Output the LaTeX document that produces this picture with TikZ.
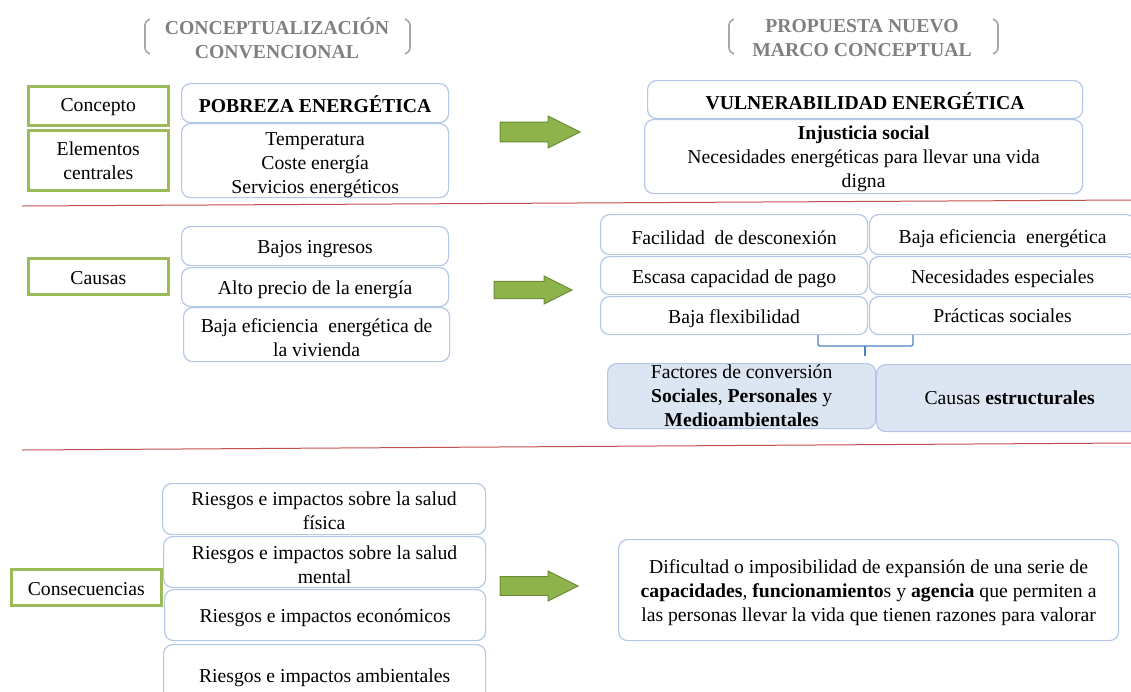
\documentclass[tikz,border=0pt]{standalone}
\usepackage{fontspec}
\setmainfont{Liberation Serif}
\definecolor{boxline}{HTML}{B4C7E7}
\definecolor{ggreen}{HTML}{9BBB59}
\definecolor{factfill}{HTML}{DCE6F2}
\definecolor{redl}{HTML}{C0504D}
\definecolor{headgray}{HTML}{808080}
\definecolor{brgray}{HTML}{A6A6A6}
\definecolor{arrfill}{HTML}{8DB34A}
\definecolor{arrdraw}{HTML}{6E8C36}
\definecolor{bracecol}{HTML}{4F81BD}
\newcommand\myfs{\fontsize{19.7}{24}\selectfont}
\newcommand\greenarrow[4]{% tail x, tip x, center y, head half
  \filldraw[fill=arrfill, draw=arrdraw, line width=1pt]
   (#1,#3-0.62*#4) -- (#2-#4*2,#3-0.62*#4) -- (#2-#4*2,#3-#4) -- (#2,#3)
   -- (#2-#4*2,#3+#4) -- (#2-#4*2,#3+0.62*#4) -- (#1,#3+0.62*#4) -- cycle;}
\begin{document}
\begin{tikzpicture}[x=1pt,y=-1pt,
  basebox/.style={draw=boxline, line width=1.2pt, rounded corners=9pt, fill=white,
    align=center, anchor=north west, inner sep=0pt, font=\myfs},
  lift/.style={execute at begin node={\rule{0pt}{#1pt}}},
  box/.style={basebox, lift=19.5},
  nbox/.style={basebox},
  fbox/.style={basebox, fill=factfill},
  gbox/.style={draw=ggreen, line width=2.6pt, align=center, anchor=north west,
    inner sep=0pt, font=\myfs},
  head/.style={align=center, text=headgray, font=\myfs\bfseries},
  redline/.style={draw=redl, line width=1pt},
  bracket/.style={draw=brgray, line width=1.6pt, rounded corners=3pt}]
\useasboundingbox (0,0) rectangle (1131,691);

% headers
\node[head] (h1) at (277,38) {CONCEPTUALIZACIÓN\\CONVENCIONAL};
\node[head] (h2) at (862,38) {PROPUESTA NUEVO\\MARCO CONCEPTUAL};
\draw[bracket] (150,19) -- (145,22) -- (145,51) -- (150,54);
\draw[bracket] (405,19) -- (410,22) -- (410,51) -- (405,54);
\draw[bracket] (734,19) -- (729,22) -- (729,51) -- (734,54);
\draw[bracket] (993,19) -- (998,22) -- (998,51) -- (993,54);

% row 1
\node[gbox, lift=16, minimum width=140, minimum height=39] (concepto) at (27,85) {Concepto};
\node[gbox, minimum width=140, minimum height=60] (elem) at (27,129) {Elementos\\centrales};
\node[box, minimum width=267, minimum height=39] (pob) at (181,83) {\textbf{POBREZA ENERGÉTICA}};
\node[box, lift=69.5, minimum width=267, minimum height=74] (temp) at (181,123) {Temperatura\\Coste energía\\Servicios energéticos};
\greenarrow{500}{580}{132}{16}
\node[box, minimum width=435, minimum height=38] (vul) at (647,80) {\textbf{VULNERABILIDAD ENERGÉTICA}};
\node[box, lift=67, minimum width=438, minimum height=74] (inj) at (644,119) {\textbf{Injusticia social}\\Necesidades energéticas para llevar una vida\\digna};

\draw[redline] (22,206) -- (1131,200);

% row 2
\node[gbox, lift=16, minimum width=140, minimum height=36] (causas) at (27,257) {Causas};
\node[box, minimum width=267, minimum height=39] (bajos) at (181,226) {Bajos ingresos};
\node[box, minimum width=267, minimum height=39] (alto) at (181,267) {Alto precio de la energía};
\node[box, lift=43, minimum width=266, minimum height=54] (bajaef) at (183,307) {Baja eficiencia\ \ energética de\\la vivienda};
\greenarrow{494}{572}{290}{14}
\node[box, minimum width=267, minimum height=40] (r11) at (600,214) {Facilidad\ \ de desconexión};
\node[box, lift=23, minimum width=266, minimum height=40] (r12) at (869,214) {Baja eficiencia\ \ energética};
\node[box, minimum width=267, minimum height=38] (r21) at (600,256) {Escasa capacidad de pago};
\node[box, minimum width=266, minimum height=38] (r22) at (869,256) {Necesidades especiales};
\node[box, minimum width=267, minimum height=38] (r31) at (600,296) {Baja flexibilidad};
\node[nbox, lift=14, minimum width=266, minimum height=38] (r32) at (869,296) {Prácticas sociales};
\draw[draw=bracecol, line width=1.3pt, rounded corners=2pt] (818,335) -- (818,346) -- (913,346) -- (913,335);
\draw[draw=bracecol, line width=1.3pt] (865,346) -- (865,356);
\node[fbox, minimum width=268, minimum height=65] (fac) at (607,363) {Factores de conversión\\\textbf{Sociales}, \textbf{Personales} y\\\textbf{Medioambientales}};
\node[fbox, minimum width=266, minimum height=67] (est) at (876,364) {Causas \textbf{estructurales}};

\draw[redline] (22,450) -- (1131,443);

% row 3
\node[gbox, lift=16, minimum width=150, minimum height=36] (cons) at (10,568) {Consecuencias};
\node[box, lift=41.5, minimum width=323, minimum height=51] (c1) at (162,483) {Riesgos e impactos sobre la salud\\física};
\node[box, lift=43.5, minimum width=322, minimum height=51] (c2) at (163,536) {Riesgos e impactos sobre la salud\\mental};
\node[box, minimum width=321, minimum height=51] (c3) at (164,589) {Riesgos e impactos económicos};
\node[box, minimum width=322, minimum height=60] (c4) at (163,644) {Riesgos e impactos ambientales};
\greenarrow{500}{578}{586}{15}
\node[box, lift=66.5, minimum width=500, minimum height=101] (dif) at (618,539) {Dificultad o imposibilidad de expansión de una serie de\\\textbf{capacidades}, \textbf{funcionamiento}s y \textbf{agencia} que permiten a\\las personas llevar la vida que tienen razones para valorar};
\end{tikzpicture}
\end{document}
